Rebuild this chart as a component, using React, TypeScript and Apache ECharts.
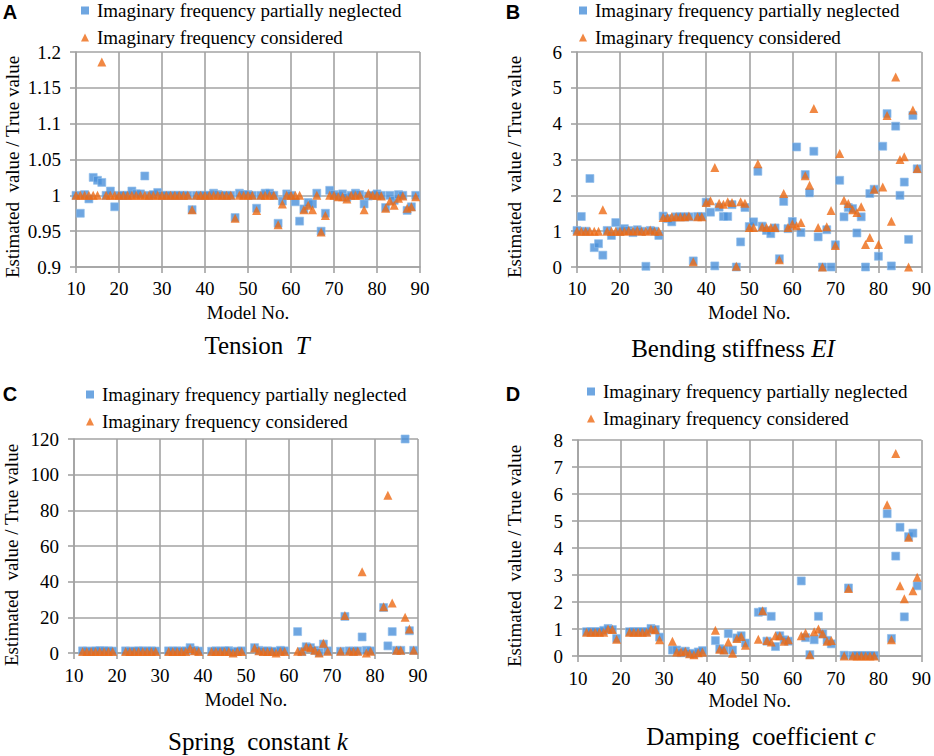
import React, { useEffect, useRef } from "react";
import * as echarts from "echarts";

// ---------- data ----------
const modelsAB = [
  10, 11, 12, 13, 14, 15, 16, 17, 18, 19,
  20, 21, 22, 23, 24, 25, 26, 27, 28, 29,
  30, 31, 32, 33, 34, 35, 36, 37, 38, 39,
  40, 41, 42, 43, 44, 45, 46, 47, 48, 49,
  50, 51, 52, 53, 54, 55, 56, 57, 58, 59,
  60, 61, 62, 63, 64, 65, 66, 67, 68, 69,
  70, 71, 72, 73, 74, 75, 76, 77, 78, 79,
  80, 81, 82, 83, 84, 85, 86, 87, 88, 89,
];
const modelsCD = [
  12, 13, 14, 15, 16, 17, 18, 19,
  22, 23, 24, 25, 26, 27, 28, 29,
  32, 33, 34, 35, 36, 37, 38, 39,
  42, 43, 44, 45, 46, 47, 48, 49,
  52, 53, 54, 55, 56, 57, 58, 59,
  62, 63, 64, 65, 66, 67, 68, 69,
  72, 73, 74, 75, 76, 77, 78, 79,
  82, 83, 84, 85, 86, 87, 88, 89,
];

const tensionNeglected = [
  1.0, 0.975, 1.001, 0.995, 1.025, 1.021, 1.018, 1.0, 1.006, 0.984,
  1.0, 1.0, 1.0, 1.006, 1.002, 1.002, 1.027, 1.0, 1.001, 1.004,
  1.0, 1.0, 1.0, 1.0, 1.0, 1.0, 1.0, 0.98, 1.0, 1.0,
  1.0, 1.0, 1.003, 1.001, 1.0, 1.0, 1.0, 0.969, 1.003, 1.001,
  1.001, 1.0, 0.982, 1.0, 1.003, 1.003, 1.0, 0.961, 0.992, 1.002,
  1.0, 0.991, 0.964, 0.981, 0.99, 0.988, 1.003, 0.95, 0.975, 1.007,
  1.001, 0.999, 1.002, 0.997, 1.0, 1.003, 1.001, 0.988, 0.999, 1.0,
  1.002, 1.0, 0.983, 1.0, 0.993, 1.001, 1.0, 0.979, 0.984, 1.0,
];
const tensionConsidered = [
  1.0, 1.0, 1.0, 1.0, 1.0, 1.0, 1.186, 1.0, 1.0, 1.0,
  1.0, 1.0, 1.0, 1.0, 1.0, 1.0, 1.0, 1.0, 1.0, 1.0,
  1.0, 1.0, 1.0, 1.0, 1.0, 1.0, 1.0, 0.98, 1.0, 1.0,
  1.0, 1.0, 1.0, 1.0, 1.0, 1.0, 1.0, 0.968, 1.0, 1.0,
  1.0, 1.0, 0.979, 1.0, 1.0, 1.0, 1.0, 0.959, 0.988, 1.0,
  1.0, 1.0, 1.0, 0.98, 0.986, 0.98, 1.0, 0.949, 0.972, 1.0,
  1.0, 0.998, 0.998, 0.995, 1.0, 1.0, 1.0, 0.98, 1.003, 1.0,
  1.0, 0.999, 0.982, 0.992, 0.986, 0.996, 0.999, 0.982, 0.984, 0.998,
];

const bendingNeglected = [
  1.02, 1.41, 1.0, 2.47, 0.54, 0.65, 0.33, 1.02, 0.88, 1.24,
  1.0, 1.07, 1.02, 0.96, 1.04, 1.0, 0.02, 1.02, 1.0, 0.88,
  1.42, 1.35, 1.26, 1.4, 1.4, 1.4, 1.4, 0.17, 1.41, 1.41,
  1.81, 1.53, 0.03, 1.67, 1.41, 1.41, 1.74, 0.0, 0.7, 1.66,
  1.13, 1.26, 2.67, 1.14, 1.02, 0.93, 1.09, 0.23, 1.83, 1.07,
  1.27, 3.35, 0.96, 2.58, 2.07, 3.23, 0.84, 0.0, 1.04, 0.0,
  0.62, 2.42, 1.4, 1.66, 1.63, 0.95, 1.4, 0.0, 2.05, 2.17,
  0.3, 3.37, 4.28, 0.03, 3.93, 2.0, 2.37, 0.77, 4.23, 2.74,
];
const bendingConsidered = [
  1.0, 1.0, 1.0, 1.0, 1.0, 1.0, 1.6, 1.0, 1.0, 1.0,
  1.0, 1.0, 1.02, 1.0, 1.02, 1.0, 1.0, 1.03, 1.0, 1.0,
  1.38, 1.38, 1.4, 1.4, 1.4, 1.4, 1.42, 0.15, 1.4, 1.4,
  1.8, 1.85, 2.78, 1.78, 1.75, 1.82, 1.8, 0.02, 1.82, 1.78,
  1.1, 1.1, 2.88, 1.12, 1.1, 1.1, 1.1, 0.2, 2.05, 1.1,
  1.2, 1.15, 1.24, 2.55, 2.28, 4.42, 1.1, 0.0, 1.12, 1.58,
  0.6, 3.17, 1.86, 1.77, 1.6, 1.52, 1.68, 0.63, 0.82, 2.17,
  0.63, 2.23, 4.23, 1.28, 5.3, 3.0, 3.08, 0.0, 4.38, 2.75,
];

const springNeglected = [
  1.2, 1.1, 1.0, 1.2, 1.3, 1.2, 1.2, 1.1,
  1.2, 1.0, 1.1, 1.2, 1.2, 1.1, 1.2, 1.1,
  1.2, 1.1, 1.2, 1.0, 1.2, 3.0, 1.5, 1.1,
  1.0, 1.2, 1.1, 1.2, 1.3, 0.5, 1.0, 1.2,
  3.0, 1.5, 1.0, 1.2, 1.0, 0.8, 1.5, 1.2,
  12.0, 0.8, 3.5, 3.0, 1.5, 0.3, 5.0, 1.2,
  1.0, 20.5, 1.2, 1.0, 1.2, 9.0, 1.5, 1.2,
  25.5, 4.0, 12.0, 1.5, 1.5, 120, 12.5, 1.5,
];
const springConsidered = [
  0.9, 0.9, 0.9, 0.9, 0.9, 0.9, 0.9, 0.9,
  0.9, 0.9, 0.9, 0.9, 0.9, 0.9, 0.9, 0.9,
  0.9, 0.9, 0.9, 0.9, 0.9, 2.5, 1.2, 0.9,
  0.9, 0.9, 0.9, 0.9, 0.9, 0.0, 0.9, 0.9,
  2.8, 1.2, 0.9, 0.9, 0.9, 0.0, 1.0, 0.9,
  1.0, 1.0, 3.5, 3.0, 1.5, 0.0, 5.5, 1.0,
  1.0, 21.0, 1.0, 1.0, 1.0, 45.5, 0.0, 1.0,
  26.0, 88.5, 28.0, 1.5, 1.5, 20.0, 13.5, 1.5,
];

const dampingNeglected = [
  0.9, 0.9, 0.9, 0.9, 0.95, 1.02, 0.98, 0.65,
  0.9, 0.9, 0.9, 0.9, 0.9, 1.02, 0.98, 0.7,
  0.22, 0.22, 0.12, 0.18, 0.1, 0.08, 0.15, 0.2,
  0.57, 0.27, 0.22, 0.83, 0.22, 0.67, 0.75, 0.48,
  1.62, 1.65, 0.55, 1.47, 0.35, 0.75, 0.6, 0.55,
  2.78, 0.68, 0.05, 0.6, 1.47, 0.82, 0.58, 0.45,
  0.03, 2.52, 0.02, 0.02, 0.02, 0.02, 0.02, 0.02,
  5.27, 0.65, 3.7, 4.77, 1.45, 4.42, 4.55, 2.6,
];
const dampingConsidered = [
  0.88, 0.88, 0.88, 0.88, 0.88, 1.0, 0.98, 0.62,
  0.88, 0.88, 0.88, 0.88, 0.88, 1.0, 0.97, 0.6,
  0.55, 0.15, 0.15, 0.18, 0.08, 0.05, 0.12, 0.15,
  0.95, 0.25, 0.22, 0.52, 0.1, 0.65, 0.72, 0.4,
  0.62, 1.68, 0.57, 0.52, 0.75, 0.75, 0.55, 0.6,
  0.75, 0.85, 0.05, 0.9, 1.0, 0.82, 0.55, 0.57,
  0.0, 2.5, 0.0, 0.0, 0.0, 0.0, 0.0, 0.0,
  5.6, 0.6, 7.5, 2.6, 2.12, 4.4, 2.42, 2.92,
];

const seriesNames = [
  "Imaginary frequency partially neglected",
  "Imaginary frequency considered",
];
const panelLetters = ["A", "B", "C", "D"];
const panelTitles = [
  ["Tension  ", "T"],
  ["Bending stiffness ", "EI"],
  ["Spring  constant ", "k"],
  ["Damping  coefficient ", "c"],
];
const yRanges = [
  { min: 0.9, max: 1.2, interval: 0.05 },
  { min: 0, max: 6, interval: 1 },
  { min: 0, max: 120, interval: 20 },
  { min: 0, max: 8, interval: 1 },
];
const xAxisName = "Model No.";
const yAxisName = "Estimated  value / True value";

// ---------- styling ----------
const SERIF = "Liberation Serif";
const SANS = "Liberation Sans";
const BLUE = "#4a90d9";
const ORANGE = "#ee6a14";
const GRIDC = "#a3a3a3";

const grids = [
  { left: 76, top: 52, width: 344, height: 215 },
  { left: 577, top: 52, width: 345, height: 215 },
  { left: 74, top: 439, width: 344, height: 214 },
  { left: 578, top: 440, width: 345, height: 216 },
];
const legendPos = [
  { left: 81, top: 1 },
  { left: 579, top: 1 },
  { left: 86, top: 385 },
  { left: 587, top: 382 },
];
const letterPos = [
  { x: 10, y: 12 },
  { x: 513, y: 12 },
  { x: 10, y: 394 },
  { x: 513, y: 394 },
];
const titlePos = [
  { x: 257, y: 345 },
  { x: 733, y: 348 },
  { x: 258, y: 741 },
  { x: 761, y: 736 },
];
const yNamePos = [
  { x: 12, y: 167 },
  { x: 514, y: 167 },
  { x: 11, y: 555 },
  { x: 514, y: 556 },
];
const xLabelMargin = [12, 12, 13, 13];
const xNameGap = [36, 36, 37, 35];

export default function App() {
  const ref = useRef<HTMLDivElement>(null);
  useEffect(() => {
    document.body.style.margin = "0";
    const chart = echarts.init(ref.current!, undefined, { renderer: "svg" });
    const xs = [modelsAB, modelsAB, modelsCD, modelsCD];
    const ys = [
      [tensionNeglected, tensionConsidered],
      [bendingNeglected, bendingConsidered],
      [springNeglected, springConsidered],
      [dampingNeglected, dampingConsidered],
    ];
    const series: any[] = [];
    ys.forEach((pair, gi) => {
      pair.forEach((vals, si) => {
        series.push({
          type: "scatter",
          name: seriesNames[si],
          xAxisIndex: gi,
          yAxisIndex: gi,
          symbol: si === 0 ? "rect" : "triangle",
          symbolSize: si === 0 ? 8 : 9,
          itemStyle: {
            color: si === 0 ? BLUE : ORANGE,
            borderColor: si === 0 ? "#8fbdea" : ORANGE,
            borderWidth: si === 0 ? 0.8 : 0,
          },
          data: vals.map((v, i) => [xs[gi][i], v]),
          z: si === 0 ? 2 : 3,
        });
      });
    });
    const graphic: any[] = [];
    panelLetters.forEach((l, i) => {
      graphic.push({
        type: "text",
        x: letterPos[i].x,
        y: letterPos[i].y,
        style: {
          text: l,
          fontFamily: SANS,
          fontWeight: "bold",
          fontSize: 20,
          fill: "#000",
          align: "center",
          verticalAlign: "middle",
        },
      });
      graphic.push({
        type: "text",
        x: yNamePos[i].x,
        y: yNamePos[i].y,
        rotation: Math.PI / 2,
        style: {
          text: yAxisName,
          fontFamily: SERIF,
          fontSize: 19,
          fill: "#000",
          align: "center",
          verticalAlign: "middle",
        },
      });
      graphic.push({
        type: "text",
        x: titlePos[i].x,
        y: titlePos[i].y,
        style: {
          text: `{n|${panelTitles[i][0]}}{it|${panelTitles[i][1]}}`,
          align: "center",
          verticalAlign: "middle",
          rich: {
            n: { fontFamily: SERIF, fontSize: 25, fill: "#000", color: "#000" },
            it: {
              fontFamily: SERIF,
              fontSize: 25,
              fontStyle: "italic",
              fill: "#000",
              color: "#000",
            },
          },
        },
      });
    });
    const txt = { fontFamily: SERIF, fontSize: 19, color: "#000" };
    chart.setOption({
      animation: false,
      backgroundColor: "#fff",
      textStyle: { fontFamily: SERIF },
      grid: grids.map((g) => ({ ...g, containLabel: false })),
      legend: legendPos.map((p) => ({
        left: p.left,
        top: p.top,
        orient: "vertical",
        padding: 0,
        itemGap: 8,
        itemWidth: 8,
        itemHeight: 8,
        selectedMode: false,
        textStyle: { ...txt, padding: [0, 0, 0, 3] },
        data: [
          { name: seriesNames[0], icon: "rect", itemStyle: { color: BLUE, borderWidth: 0 } },
          { name: seriesNames[1], icon: "triangle", itemStyle: { color: ORANGE, borderWidth: 0 } },
        ],
      })),
      xAxis: grids.map((_, i) => ({
        type: "value",
        gridIndex: i,
        min: 10,
        max: 90,
        interval: 10,
        name: xAxisName,
        nameLocation: "middle",
        nameGap: xNameGap[i],
        nameTextStyle: { ...txt },
        axisLine: { show: true, onZero: false, lineStyle: { color: GRIDC, width: 1.6 } },
        axisTick: { show: true, length: 6, lineStyle: { color: GRIDC, width: 1.6 } },
        axisLabel: { ...txt, margin: xLabelMargin[i] },
        splitLine: { show: true, lineStyle: { color: GRIDC, width: 1.6 } },
      })),
      yAxis: grids.map((_, i) => ({
        type: "value",
        gridIndex: i,
        min: yRanges[i].min,
        max: yRanges[i].max,
        interval: yRanges[i].interval,
        axisLine: { show: true, onZero: false, lineStyle: { color: GRIDC, width: 1.6 } },
        axisTick: { show: true, length: 6, lineStyle: { color: GRIDC, width: 1.6 } },
        axisLabel: { ...txt, margin: 15 },
        splitLine: { show: true, lineStyle: { color: GRIDC, width: 1.6 } },
      })),
      series,
      graphic,
    });
    return () => chart.dispose();
  }, []);
  return <div ref={ref} style={{ width: 934, height: 756 }} />;
}
